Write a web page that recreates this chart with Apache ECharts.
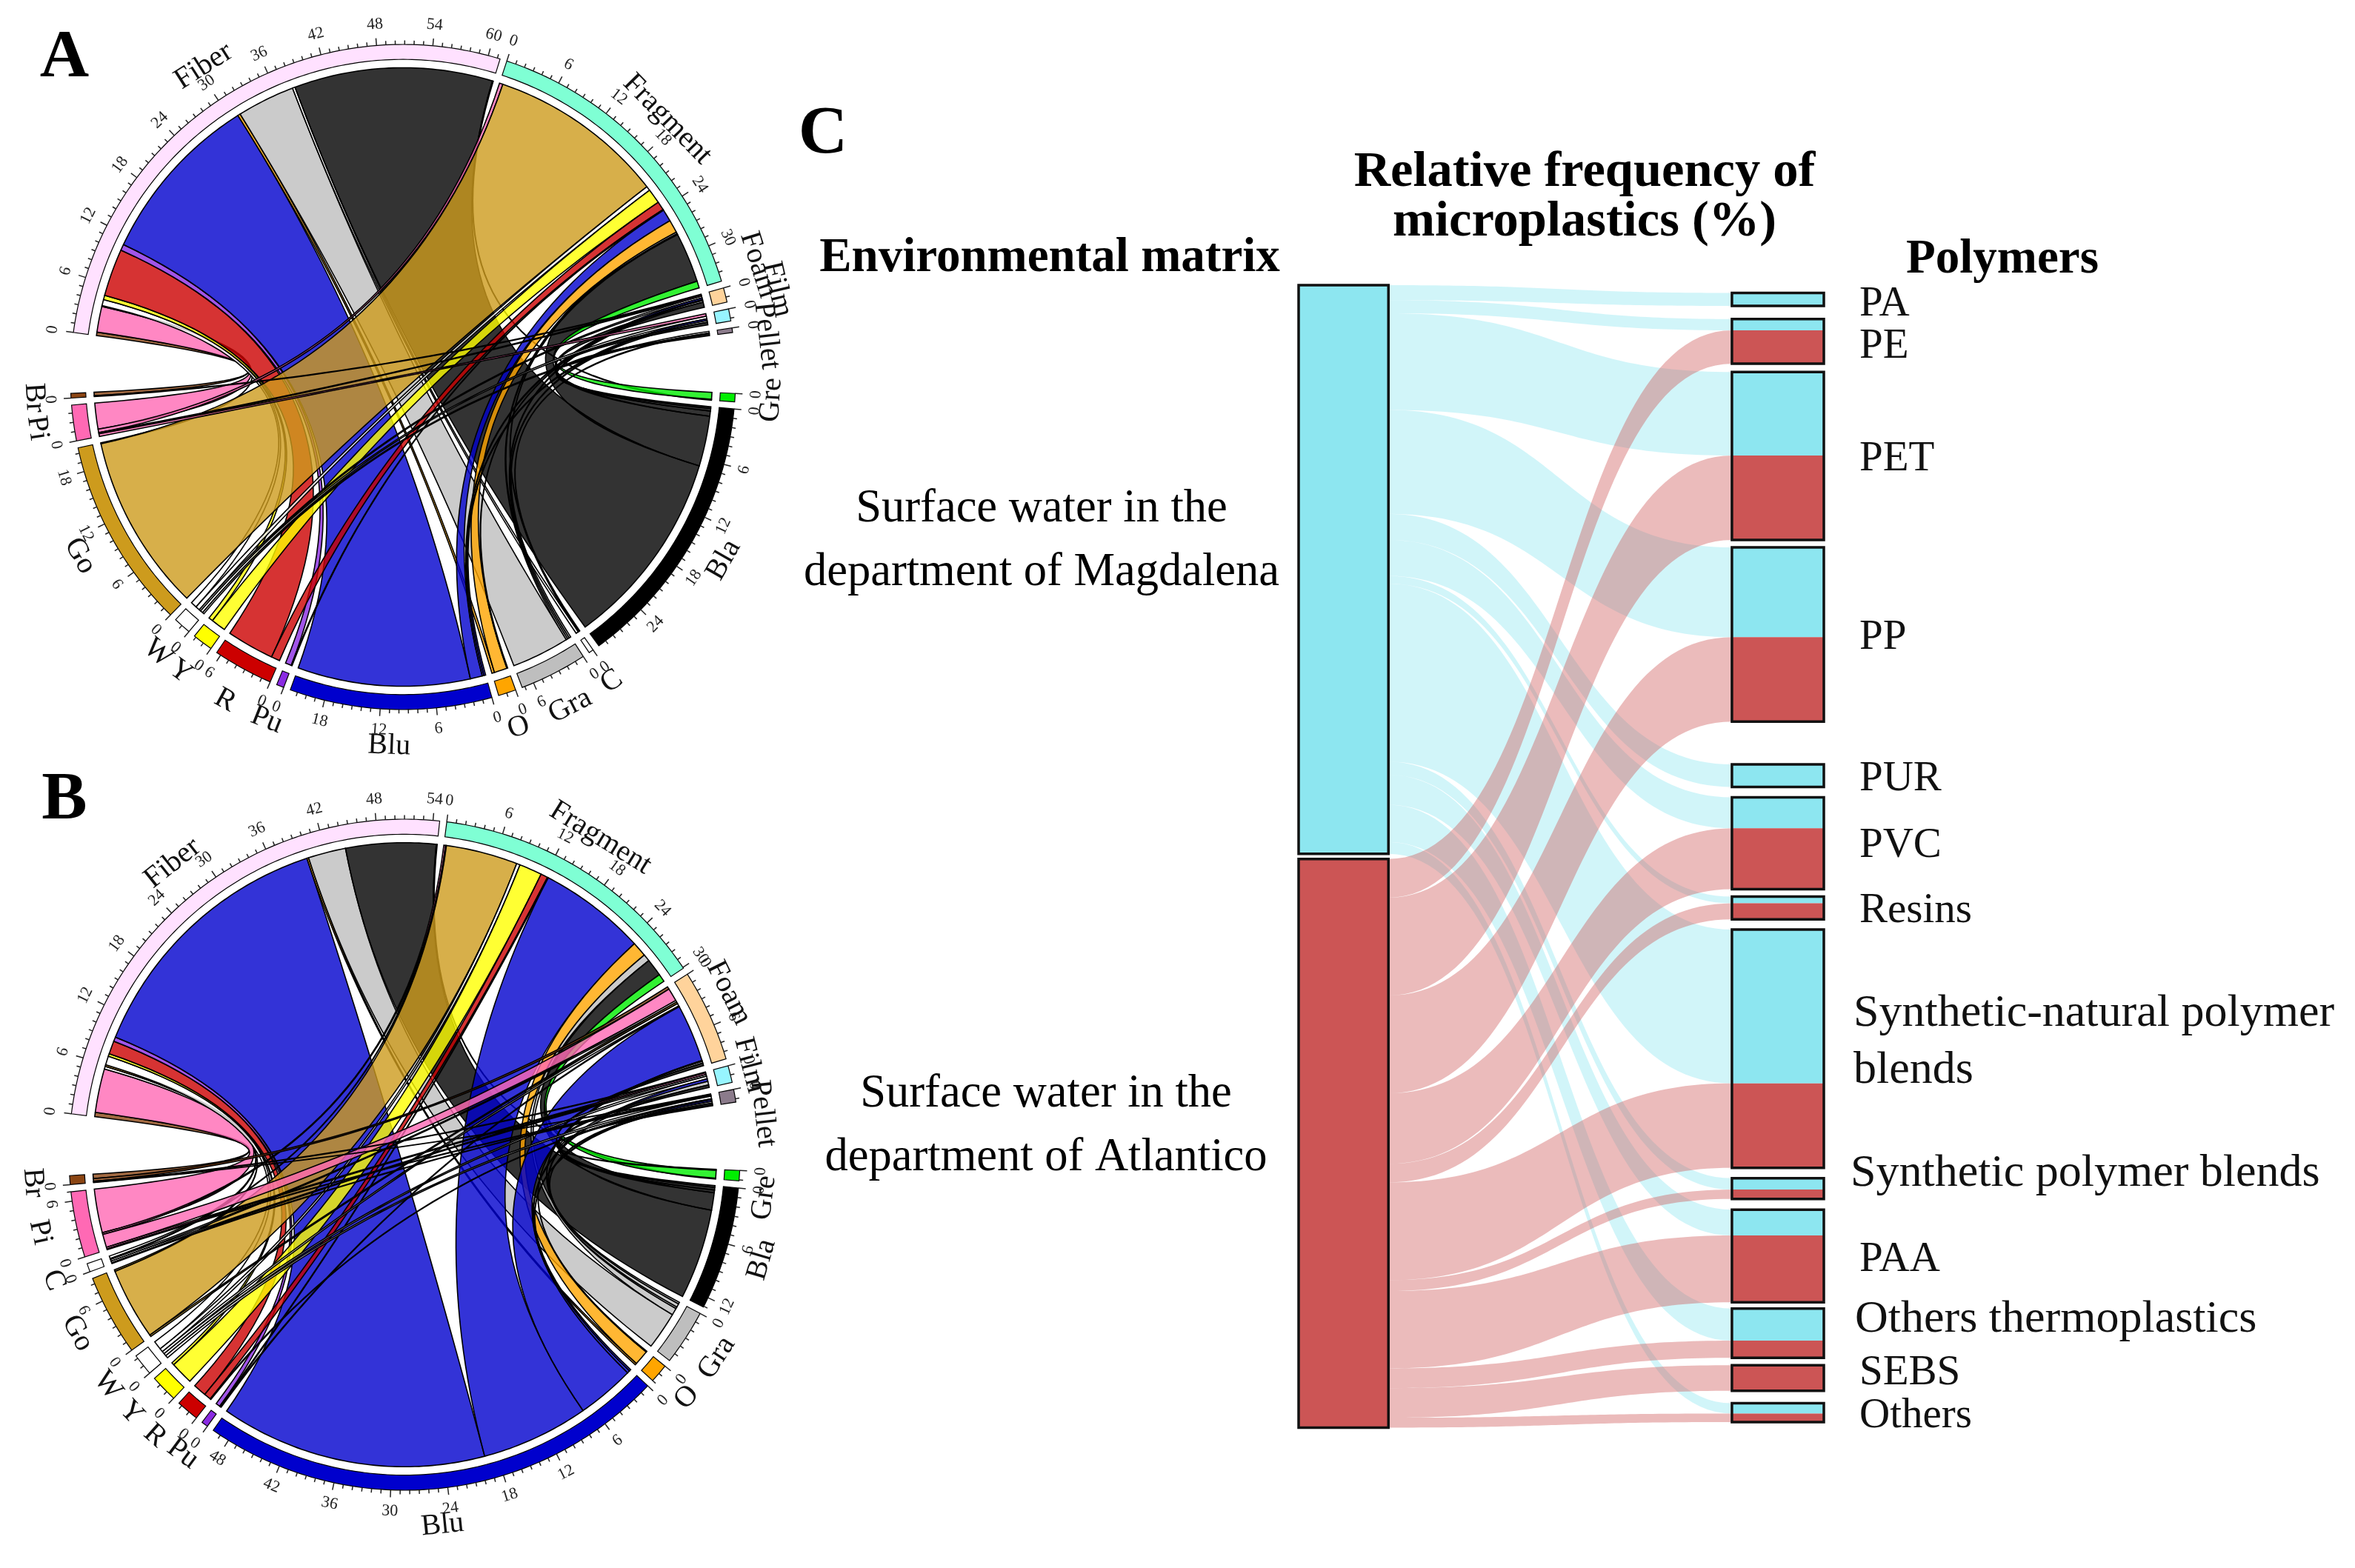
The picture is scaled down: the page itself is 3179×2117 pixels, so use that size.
<!DOCTYPE html>
<html><head><meta charset="utf-8">
<style>html,body{margin:0;padding:0;background:#fff}#c{width:3179px;height:2117px}</style>
<script src="https://cdn.jsdelivr.net/npm/echarts@6/dist/echarts.min.js"></script>
</head><body><div id="c"></div>
<script>
// ---------- DATA ----------
const shapeNames = ['Fiber','Fragment','Foam','Film','Pellet'];
const colorNamesA = ['Gre','Bla','C','Gra','O','Blu','Pu','R','Y','W','Go','Pi','Br'];
const colorNamesB = ['Gre','Bla','Gra','O','Blu','Pu','R','Y','W','Go','C','Pi','Br'];
// rows follow colorNames*, columns follow shapeNames
const matrixA = [
 [0.1,0.8,0,0,0],[23,5.8,0.6,0.3,0.2],[0.3,0.1,0,0,0.1],[6.7,0.2,0.2,0.2,0],[0.3,1.5,0.1,0,0],
 [20,1.4,0.2,0.2,0],[0.7,0.1,0,0,0],[5.5,1,0,0,0],[0.5,1.7,0,0,0],[0.7,0.5,0.2,0.3,0.2],
 [0.1,20.5,0,0,0],[3,0.4,0.15,0.3,0],[0.4,0,0.1,0,0]];
const matrixB = [
 [0.1,0.9,0,0,0.1],[10.3,2,0.3,0.3,0.2],[4.3,0.8,0.2,0.4,0.2],[0.2,1.7,0.1,0,0],
 [30.5,12.3,6.6,0.3,0.2],[0.5,0.1,0.1,0,0],[1.5,0.8,0,0,0.1],[0.3,2.6,0,0,0],[1,0.4,0.3,0.3,0.3],
 [0.2,8.2,0.2,0,0],[0.3,0.1,0.2,0.2,0.1],[5,0.2,1.5,0.2,0.1],[0.5,0,0.3,0.1,0.05]];
const polymers = ['PA','PE','PET','PP','PUR','PVC','Resins','Synthetic-natural polymer\nblends','Synthetic polymer blends','PAA','Others thermoplastics','SEBS','Others'];
const magdalena = [1.32,1.15,8.5,9.14,2.29,3.16,0.68,15.65,1.16,2.63,3.27,0,1.04];
const atlantico = [0,3.4,8.6,8.6,0,6.2,1.63,8.6,0.95,6.8,1.74,2.6,0.87];
const matrixNames = ['Surface water in the\ndepartment of Magdalena','Surface water in the\ndepartment of Atlantico'];

// ---------- STYLE ----------
const FONT = '"Liberation Serif","Times New Roman",serif';
const sectorColor = {Fiber:'#FFE1FF',Fragment:'#7FFFD4',Foam:'#FFD39B',Film:'#97F5FF',Pellet:'#8B7B8B',Gre:'#00EE00',Bla:'#000000',C:'#FFFFFF',Gra:'#BEBEBE',O:'#FFA500',Blu:'#0000CD',Pu:'#8A2BE2',R:'#CC0000',Y:'#FFFF00',W:'#FFFFFF',Go:'#CD9B1D',Pi:'#FF69B4',Br:'#8B4513'};
const R_RIBBON=0.93, R_RING_IN=0.955, TICK_MINOR=1.012, TICK_MAJOR=1.022, R_TICKTEXT=1.063, R_NAME=1.11;
const GAP=0.75, BIG_GAP=6.5, MID_GAP_A=6.5, MID_GAP_B=7.2;
const nameNudgeA={Foam:[-2,1.12],Film:[-1.5,1.155],Pellet:[1,1.10]};
const nameNudgeB={Foam:[-1.2,1.08],Film:[-0.4,1.062],Pellet:[2.2,1.075],Gre:[2,1.08],W:[0.5,1.12],Y:[0.5,1.12],R:[0.8,1.12]};
const CYAN='#8DE6F0', RED='#CC5555';
const polymerGaps=[0.68,1.15,0.73,0.65,3.74,0.91,0.65,0.9,0.91,0.94,0.55,0.65,1.1];
const labelDx=[48,48,48,48,48,48,48,40,36,48,42,48,48];
const labelDy=[7,7,4,4,5,4,4,-9,-20,5,-18,-6,5];
const labelSize=[57,57,57,57,57,57,57,62,62,57,62,57,57];
const RIGHT_SCALE=0.86, LEFT_SCALE=0.996, LEFT_GAP=0.45, NODE_L=17.1, NODE_R=82.5;

function toRgba(hex,a){const n=parseInt(hex.slice(1),16);return `rgba(${n>>16},${(n>>8)&255},${n&255},${a})`;}

function layoutChord(colors,matrix,midGap){
  const names=shapeNames.concat(colors), ns=shapeNames.length, nc=colors.length;
  const totals=names.map((_,k)=>k<ns?matrix.reduce((s,r)=>s+r[k],0):matrix[k-ns].reduce((s,v)=>s+v,0));
  let cur=0; const sectors=names.map((name,k)=>{const s={name,start:cur,total:totals[k]};cur+=totals[k]+(k===ns-1?midGap:k===names.length-1?BIG_GAP:GAP);return s;});
  const cursor=sectors.map(s=>s.start), links=[];
  const aPos={},bPos={};
  for(let i=0;i<ns;i++) for(let j=nc-1;j>=0;j--){const v=matrix[j][i]; if(!v) continue; aPos[i+'_'+j]=cursor[i]; cursor[i]+=v;}
  for(let j=0;j<nc;j++) for(let i=ns-1;i>=0;i--){const v=matrix[j][i]; if(!v) continue; bPos[i+'_'+j]=cursor[ns+j]; cursor[ns+j]+=v;}
  for(let i=0;i<ns;i++) for(let j=nc-1;j>=0;j--){const v=matrix[j][i]; if(!v) continue;
    links.push({color:sectorColor[colors[j]],v,a0:aPos[i+'_'+j],b0:bPos[i+'_'+j]});}
  return {sectors,links,max:cur};
}
function tangentRotation(p,c){
  const deg=Math.atan2(p[0]-c[0],c[1]-p[1])*180/Math.PI; // clockwise from top
  return -(Math.abs(deg)<=90?deg:deg-180)*Math.PI/180;
}
function arcPts(api,r,from,to){const n=Math.max(2,Math.ceil(Math.abs(to-from)*2)),o=[];for(let i=0;i<=n;i++)o.push(api.coord([r,from+(to-from)*i/n]));return o;}
function quadPts(p,q,c){const o=[];for(let i=1;i<40;i++){const t=i/40,u=1-t;o.push([u*u*p[0]+2*u*t*c[0]+t*t*q[0],u*u*p[1]+2*u*t*c[1]+t*t*q[1]]);}return o;}

function chordSeries(layout,polarIndex,nudge){
  return [{
    type:'custom',coordinateSystem:'polar',polarIndex,silent:true,clip:false,animation:false,
    data:layout.links.map((l,i)=>[i,l.v]),
    renderItem(params,api){
      const l=layout.links[params.dataIndex], c=api.coord([0,0]);
      const A=arcPts(api,R_RIBBON,l.a0,l.a0+l.v), B=arcPts(api,R_RIBBON,l.b0,l.b0+l.v);
      const pts=A.concat(quadPts(A[A.length-1],B[0],c),B,quadPts(B[B.length-1],A[0],c));
      return {type:'polygon',shape:{points:pts},style:{fill:toRgba(l.color,0.8),stroke:'#000',lineWidth:1.6}};
    }
  },{
    type:'custom',coordinateSystem:'polar',polarIndex,silent:true,clip:false,animation:false,
    data:layout.sectors.map((s,i)=>[i,s.total]),
    renderItem(params,api){
      const s=layout.sectors[params.dataIndex], c=api.coord([0,0]), kids=[];
      const pts=arcPts(api,1,s.start,s.start+s.total).concat(arcPts(api,R_RING_IN,s.start+s.total,s.start));
      kids.push({type:'polygon',shape:{points:pts},style:{fill:sectorColor[s.name],stroke:'#000',lineWidth:1.2}});
      for(let v=0;v<=s.total;v++){
        const major=v%6===0, a=s.start+v;
        const p=api.coord([1,a]), q=api.coord([major?TICK_MAJOR:TICK_MINOR,a]);
        kids.push({type:'line',shape:{x1:p[0],y1:p[1],x2:q[0],y2:q[1]},style:{stroke:'#222',lineWidth:1.5}});
        if(major){
          const t=api.coord([R_TICKTEXT,a]);
          kids.push({type:'text',x:t[0],y:t[1],rotation:tangentRotation(t,c),style:{text:String(v),fontFamily:FONT,fontSize:22,fill:'#222',textAlign:'center',textVerticalAlign:'middle',verticalAlign:'middle'}});
        }
      }
      const nd=nudge[s.name]||[0,R_NAME];
      const n=api.coord([nd[1],s.start+s.total/2+nd[0]]);
      kids.push({type:'text',x:n[0],y:n[1],rotation:tangentRotation(n,c),style:{text:s.name,fontFamily:FONT,fontSize:40,fill:'#111',textAlign:'center',textVerticalAlign:'middle',verticalAlign:'middle'}});
      return {type:'group',children:kids};
    }
  }];
}

// ---------- SANKEY LAYOUT ----------
const leftTotal=[magdalena,atlantico].map(a=>a.reduce((s,v)=>s+v,0));
const leftTop=[0,leftTotal[0]*LEFT_SCALE+LEFT_GAP];
const rightBoxes=[];(function(){let y=0;polymers.forEach((p,i)=>{y+=polymerGaps[i];const h0=magdalena[i]*RIGHT_SCALE,h1=atlantico[i]*RIGHT_SCALE;rightBoxes.push({y,h0,h1});y+=h0+h1;});})();
function sankeyLinks(values,col){let y=leftTop[col];const o=[];values.forEach((v,i)=>{if(v>0){const b=rightBoxes[i];o.push({y0:y,h0:v*LEFT_SCALE,y1:col===0?b.y:b.y+b.h0,h1:v*RIGHT_SCALE});}y+=v*LEFT_SCALE;});return o;}
function cubic(p0,p1,p2,p3,t){const u=1-t;return u*u*u*p0+3*u*u*t*p1+3*u*t*t*p2+t*t*t*p3;}
function linkSeries(links,color){return {
  type:'custom',coordinateSystem:'cartesian2d',silent:true,clip:false,animation:false,
  data:links.map((l,i)=>[i,l.h0]),
  renderItem(params,api){
    const l=links[params.dataIndex],top=[],bot=[],x0=NODE_L,x1=NODE_R,m=(x0+x1)/2;
    for(let i=0;i<=60;i++){const t=i/60,x=cubic(x0,m,m,x1,t);
      const y=cubic(l.y0,l.y0,l.y1,l.y1,t), yb=cubic(l.y0+l.h0,l.y0+l.h0,l.y1+l.h1,l.y1+l.h1,t);
      top.push(api.coord([x,y]));bot.unshift(api.coord([x,yb]));}
    return {type:'polygon',shape:{points:top.concat(bot)},style:{fill:toRgba(color,0.4)}};
  }};}

const layoutA=layoutChord(colorNamesA,matrixA,MID_GAP_A), layoutB=layoutChord(colorNamesB,matrixB,MID_GAP_B);
function rectOf(api,x0,y0,x1,y1){const a=api.coord([x0,y0]),b=api.coord([x1,y1]);return {x:a[0],y:a[1],width:b[0]-a[0],height:b[1]-a[1]};}
const hiddenPolar=(i,start,max)=>({polarIndex:i,type:'value',min:0,max,startAngle:start,show:false});
const hiddenRadius=i=>({polarIndex:i,type:'value',min:0,max:1,show:false});
function txt(text,x,y,size,bold,lineHeight){return {type:'text',x,y,style:{text,fontFamily:FONT,fontSize:size,fontWeight:bold?'bold':'normal',fill:'#000',textAlign:'center',textVerticalAlign:'middle',verticalAlign:'middle',lineHeight:lineHeight||size*1.4}};}

const option={
  backgroundColor:'#fff',animation:false,
  polar:[{center:[544,509],radius:[0,449]},{center:[546,1559],radius:[0,453]}],
  angleAxis:[hiddenPolar(0,172.3,layoutA.max),hiddenPolar(1,173,layoutB.max)],
  radiusAxis:[hiddenRadius(0),hiddenRadius(1)],
  grid:{left:1753,top:385,width:709,height:1542},
  xAxis:{type:'value',min:0,max:100,show:false},
  yAxis:{type:'value',min:0,max:100,inverse:true,show:false},
  series:[
    ...chordSeries(layoutA,0,nameNudgeA),...chordSeries(layoutB,1,nameNudgeB),
    linkSeries(sankeyLinks(magdalena,0),CYAN),
    linkSeries(sankeyLinks(atlantico,1),RED),
    {type:'custom',coordinateSystem:'cartesian2d',silent:true,clip:false,animation:false,
     data:leftTotal.map((v,i)=>[i,v]),
     renderItem(params,api){const i=params.dataIndex;
       const top=leftTop[i],h=leftTotal[i]*LEFT_SCALE;
       return {type:'rect',shape:rectOf(api,0,top,NODE_L,top+h),style:{fill:i?RED:CYAN,stroke:'#111',lineWidth:3.5}};}},
    {type:'custom',coordinateSystem:'cartesian2d',silent:true,clip:false,animation:false,
     data:polymers.map((p,i)=>[i,magdalena[i]+atlantico[i]]),
     renderItem(params,api){const i=params.dataIndex,b=rightBoxes[i],mid=api.coord([100,b.y+(b.h0+b.h1)/2]);
       return {type:'group',children:[
         {type:'rect',shape:rectOf(api,NODE_R,b.y,100,b.y+b.h0),style:{fill:CYAN}},
         {type:'rect',shape:rectOf(api,NODE_R,b.y+b.h0,100,b.y+b.h0+b.h1),style:{fill:RED}},
         {type:'rect',shape:rectOf(api,NODE_R,b.y,100,b.y+b.h0+b.h1),style:{fill:'none',stroke:'#111',lineWidth:3.5}},
         {type:'text',x:mid[0]+labelDx[i],y:mid[1]+labelDy[i],style:{text:polymers[i],fontFamily:FONT,fontSize:labelSize[i],fill:'#111',textAlign:'left',textVerticalAlign:'middle',verticalAlign:'middle',lineHeight:77}}
       ]};}}
  ],
  graphic:[
    txt('A',87,79,92,true),txt('B',87,1081,92,true),txt('C',1111,182,92,true),
    txt('Environmental matrix',1417,349,65,true),
    txt('Relative frequency of\nmicroplastics (%)',2139,267,68.5,true,67),
    txt('Polymers',2703,351,65,true),
    txt(matrixNames[0],1406,731,62.5,false,86),
    txt(matrixNames[1],1412,1521,62.5,false,86)
  ]
};
echarts.init(document.getElementById('c'),null,{renderer:'canvas'}).setOption(option);
</script></body></html>
